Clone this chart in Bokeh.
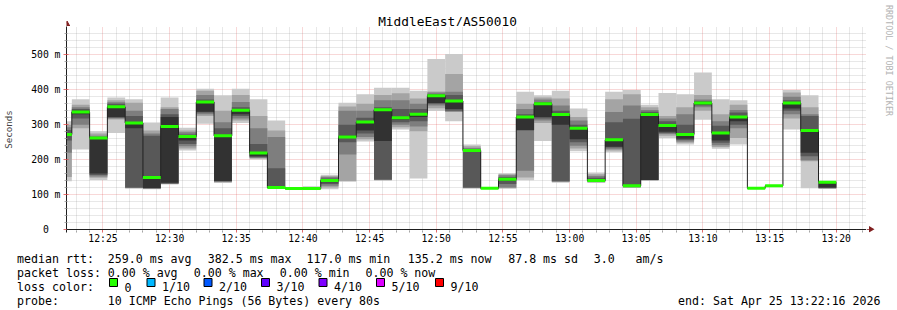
import math
from datetime import datetime, timedelta

from bokeh.plotting import figure
from bokeh.layouts import column, row
from bokeh.models import FixedTicker, DatetimeTickFormatter, Range1d, Span
from bokeh.core.properties import value
from bokeh.embed import file_html
from bokeh.resources import INLINE

# ---------------- data ----------------
title_text = "MiddleEast/AS50010"
first_bar_start = datetime(2026, 4, 25, 12, 21, 20)
step_seconds = 80
window_start = datetime(2026, 4, 25, 12, 22, 16)
window_end = datetime(2026, 4, 25, 13, 22, 16)

median = [272, 336, 262, 351, 305, 149, 295, 266, 365, 268, 341, 219, 120, 117, 117,
          140, 265, 308, 343, 320, 330, 382.5, 368, 226, 118, 144, 322, 360, 329, 290,
          140, 257, 125, 329, 298, 272, 362, 276, 322, 118, 125, 362, 283, 135.2]

ping1 = [138, 229, 142, 276, 117, 115, 129, 226, 303, 133, 305, 200, 117, 115, 114,
         115, 137, 252, 140, 286, 146, 339, 310, 117, 116, 117, 141, 253, 134, 224,
         133, 221, 119, 140, 262, 243, 314, 231, 243, 116, 122, 286, 118, 116]
ping2 = [150, 290, 148, 315, 118, 116, 130, 232, 325, 135, 312, 203, 118, 116, 115,
         120, 139, 258, 141, 293, 281, 347, 336, 118, 116, 118, 149, 305, 136, 232,
         135, 226, 120, 141, 268, 248, 340, 236, 262, 117, 123, 318, 195, 117]
ping3 = [220, 300, 152, 318, 119, 117, 131, 238, 330, 137, 318, 205, 119, 116, 116,
         125, 215, 265, 142, 300, 295, 355, 338, 119, 117, 120, 168, 312, 137, 240,
         137, 230, 121, 141, 273, 252, 350, 241, 290, 117, 123, 330, 198, 118]
ping4 = [255, 318, 156, 320, 120, 118, 132, 245, 335, 138, 325, 207, 120, 117, 116,
         130, 250, 275, 143, 307, 310, 360, 340, 120, 117, 130, 283, 318, 139, 250,
         139, 235, 122, 142, 276, 256, 355, 248, 300, 117, 124, 340, 210, 119]
ping5 = [268, 330, 160, 322, 290, 119, 134, 255, 337, 139, 330, 210, 121, 117, 117,
         135, 262, 283, 253, 315, 322, 362, 345, 222, 118, 140, 285, 322, 300, 258,
         140, 237, 124, 142, 280, 260, 358, 255, 310, 118, 124, 346, 220, 120]
ping6 = [276, 340, 262, 350, 308, 150, 322, 262, 365, 268, 342, 220, 122, 118, 117,
         142, 268, 305, 343, 322, 332, 383, 370, 226, 118, 146, 320, 358, 327, 290,
         142, 258, 127, 330, 298, 272, 364, 277, 322, 118, 125, 362, 283, 133]
ping7 = [285, 345, 265, 360, 325, 268, 330, 272, 372, 290, 350, 245, 175, 118, 118,
         146, 300, 320, 350, 345, 345, 388, 385, 230, 119, 150, 330, 365, 340, 300,
         148, 307, 317, 337, 310, 300, 368, 297, 335, 118, 125, 370, 325, 135]
ping8 = [293, 350, 268, 364, 340, 275, 345, 278, 385, 307, 365, 290, 265, 119, 119,
         150, 340, 340, 370, 370, 360, 392, 394, 233, 119, 155, 345, 372, 355, 312,
         153, 336, 355, 342, 318, 330, 372, 310, 342, 119, 126, 380, 330, 136]
ping9 = [300, 357, 275, 370, 363, 283, 350, 283, 397, 340, 385, 325, 283, 119, 121,
         153, 352, 360, 385, 390, 375, 395, 445, 238, 120, 158, 360, 378, 375, 322,
         158, 373, 387, 350, 325, 350, 385, 330, 357, 119, 126, 392, 350, 137]
ping10 = [310, 373, 281, 378, 373, 306, 378, 291, 403, 384, 403, 373, 312, 120, 124,
          157, 363, 387, 406, 406, 397, 488, 502, 243, 120, 161, 394, 384, 397, 346,
          163, 394, 399, 357, 391, 387, 449, 373, 370, 120, 127, 399, 384, 138]

y_ticks = [0, 100, 200, 300, 400, 500]
y_tick_labels = ["0\u00a0\u00a0", "100 m", "200 m", "300 m", "400 m", "500 m"]

smoke_colors = ["#cacaca", "#a4a4a4", "#7e7e7e", "#585858", "#323232"]
loss_labels = ["0", "1/10", "2/10", "3/10", "4/10", "5/10", "9/10"]
loss_colors = ["#26ff00", "#00b8ff", "#0059ff", "#5e00ff", "#7e00ff", "#dd00ff", "#ff0000"]

stats_line1 = ["median rtt:", "259.0 ms avg", "382.5 ms max", "117.0 ms min",
               "135.2 ms now", "87.8 ms sd", "3.0", "am/s"]
stats_line2 = ["packet loss:", "0.00 % avg", "0.00 % max", "0.00 % min", "0.00 % now"]
probe_text = "10 ICMP Echo Pings (56 Bytes) every 80s"
end_text = "end: Sat Apr 25 13:22:16 2026"
watermark = "RRDTOOL / TOBI OETIKER"

# ---------------- layout constants (page pixels) ----------------
W, H = 897, 310
TOP_H = 26                 # title strip above the plot frame
MID_H = 223                # plot figure (frame + x labels)
UP_H = TOP_H + MID_H
BOT_H = H - UP_H           # legend strip
LEFT = 66
FRAME_W = 800
AXIS_Y = 229               # page y of value 0
EXTRA = 3                  # frame continues a few px below the zero line
BORDER_B = UP_H - AXIS_Y - EXTRA
RIGHT_W = W - LEFT - FRAME_W
Y_MAX = 581.0
PX_PER_MS = (AXIS_Y - TOP_H) / Y_MAX
MONO = "DejaVu Sans Mono"
ARROW = "#801f1f"
AXIS_COLOR = "#1f1f1f"


def ms(dt):
    return (dt - datetime(1970, 1, 1)).total_seconds() * 1000.0


X0, X1 = ms(window_start), ms(window_end)

n = len(median)
starts = [ms(first_bar_start + timedelta(seconds=step_seconds * i)) for i in range(n)]
ends = [ms(first_bar_start + timedelta(seconds=step_seconds * (i + 1))) for i in range(n)]


def strip(width, height, x0, y0, border_bottom=0, border_left=0):
    """A figure whose frame maps data coords = page pixels."""
    f = figure(width=width, height=height, output_backend="svg", toolbar_location=None,
               x_range=Range1d(x0 + border_left, x0 + width),
               y_range=Range1d(y0 + height - border_bottom, y0),
               x_axis_location=None, y_axis_location=None,
               min_border=0, min_border_left=border_left, min_border_right=0,
               min_border_top=0, min_border_bottom=border_bottom)
    f.title.visible = False
    f.outline_line_color = None
    f.background_fill_color = "white"
    f.border_fill_color = "white"
    for g in f.grid:
        g.visible = False
    return f


# ---------------- main plot ----------------
p = figure(width=LEFT + FRAME_W, height=MID_H, output_backend="svg", toolbar_location=None,
           x_axis_type="datetime", x_range=Range1d(X0, X1),
           y_range=Range1d(-EXTRA / PX_PER_MS, Y_MAX),
           min_border_left=LEFT, min_border_right=0, min_border_top=0,
           min_border_bottom=BORDER_B)
p.outline_line_color = None
p.background_fill_color = "white"
p.border_fill_color = "white"

major_x, minor_x = [], []
t = datetime(2026, 4, 25, 12, 23)
while t < window_end:
    (major_x if t.minute % 5 == 0 else minor_x).append(ms(t))
    t += timedelta(minutes=1)
p.xaxis.ticker = FixedTicker(ticks=major_x, minor_ticks=minor_x)
p.xaxis.formatter = DatetimeTickFormatter(minutes="%H:%M", hourmin="%H:%M",
                                          hours="%H:%M", minsec="%H:%M")
minor_y = [v for v in range(20, 580, 20) if v % 100 != 0]
p.yaxis.ticker = FixedTicker(ticks=y_ticks, minor_ticks=minor_y)
p.yaxis.major_label_overrides = dict(zip(y_ticks, y_tick_labels))

for ax in (p.xaxis[0], p.yaxis[0]):
    ax.axis_line_color = AXIS_COLOR
    ax.major_label_text_font = MONO
    ax.major_label_text_font_size = "9.75px"
    ax.major_label_text_color = "black"
    ax.major_tick_line_color = "#de4f4f"
    ax.major_tick_line_alpha = 0.8
    ax.minor_tick_line_color = "#8f8f8f"
    ax.minor_tick_line_alpha = 0.75
p.yaxis.major_tick_in = 2
p.yaxis.major_tick_out = 3
p.yaxis.minor_tick_in = 1
p.yaxis.minor_tick_out = 2
p.yaxis.major_label_standoff = 3
p.yaxis.axis_label = "Seconds"
p.yaxis.axis_label_text_font = MONO
p.yaxis.axis_label_text_font_size = "9.2px"
p.yaxis.axis_label_text_font_style = "normal"
p.yaxis.axis_label_standoff = 14
# x axis sits at the frame edge just below the zero line; its ticks reach up to it
p.xaxis.axis_line_color = None
p.xaxis.major_tick_in = EXTRA
p.xaxis.major_tick_out = 0
p.xaxis.minor_tick_in = 2
p.xaxis.minor_tick_out = 0
p.xaxis.major_label_standoff = 0

for g in (p.xgrid[0], p.ygrid[0]):
    g.grid_line_color = "#de4f4f"
    g.grid_line_alpha = 0.45
    g.grid_line_dash = "1 1"
    g.minor_grid_line_color = "#8f8f8f"
    g.minor_grid_line_alpha = 0.4
    g.minor_grid_line_dash = "1 1"

pings = [ping1, ping2, ping3, ping4, ping5, ping6, ping7, ping8, ping9, ping10]
for k in range(5):
    p.quad(left=starts, right=ends, bottom=pings[k], top=pings[9 - k],
           fill_color=smoke_colors[k], line_color=None)

p.step(x=starts + [ends[-1]], y=median + [median[-1]], mode="after",
       line_color="#202020", line_width=1)
band = 4.3
p.quad(left=starts, right=ends, bottom=[m - band for m in median],
       top=[m + band for m in median], fill_color=loss_colors[0], line_color=None)

# zero line = time axis line
p.add_layout(Span(location=0, dimension="width", line_color=AXIS_COLOR, line_width=1))

# ---------------- title strip (above the frame, same horizontal frame as the plot) ----
top = strip(LEFT + FRAME_W, TOP_H, 0, 0, border_left=LEFT)
top.text(x=[447], y=[21.0], text=[title_text], text_font=value(MONO),
         text_font_size=value("12.8px"), text_align="center", text_baseline="alphabetic",
         text_color="black")
top.patch(x=[63.5, 66.5, 69.5], y=[26, 20.5, 26], fill_color=ARROW, line_color=ARROW)

# ---------------- right strip (watermark + x arrow) ----------------
right = strip(RIGHT_W, UP_H, LEFT + FRAME_W, 0, border_bottom=BORDER_B)
right.patch(x=[866, 868.5, 868.5, 874, 868.5, 868.5, 866],
            y=[228.5, 228.5, 225.5, 228.8, 231.9, 229.3, 229.3],
            fill_color=ARROW, line_color=None)
right.text(x=[888.5], y=[60], text=[watermark], text_font=value(MONO),
           text_font_size=value("8.4px"), text_align="center", text_baseline="middle",
           angle=-math.pi / 2, text_color="#b3b3b3")

# ---------------- legend strip ----------------
leg = strip(W, BOT_H, 0, UP_H)
FS = value("11.6px")
line1_x = [16.6, 107.3, 207.3, 306, 407.3, 507.7, 593.3, 635]
leg.text(x=line1_x, y=[258.3] * len(line1_x), text=stats_line1, text_font=value(MONO),
         text_font_size=FS, text_baseline="alphabetic", text_color="black")
line2_x = [16.6, 107.3, 193.3, 279.3, 365]
leg.text(x=line2_x, y=[272.6] * len(line2_x), text=stats_line2, text_font=value(MONO),
         text_font_size=FS, text_baseline="alphabetic", text_color="black")
box_x = [109, 146.5, 203.5, 261, 318.5, 376, 435]
leg.quad(left=box_x, right=[b + 8 for b in box_x], top=[278] * len(box_x),
         bottom=[286] * len(box_x), fill_color=loss_colors, line_color="black", line_width=1)
leg.text(x=[16.6] + [b + 15 for b in box_x], y=[286.6] * (len(box_x) + 1),
         text=["loss color:"] + loss_labels, text_font=value(MONO),
         text_font_size=FS, text_baseline="alphabetic", text_color="black")
leg.text(x=[16.6, 107.3], y=[300.7, 300.7], text=["probe:", probe_text],
         text_font=value(MONO), text_font_size=FS, text_baseline="alphabetic",
         text_color="black")
leg.text(x=[880], y=[300.7], text=[end_text], text_font=value(MONO), text_font_size=FS,
         text_align="right", text_baseline="alphabetic", text_color="black")

layout = column(row(column(top, p), right), leg)
open("out.html", "w").write(file_html(layout, INLINE))
